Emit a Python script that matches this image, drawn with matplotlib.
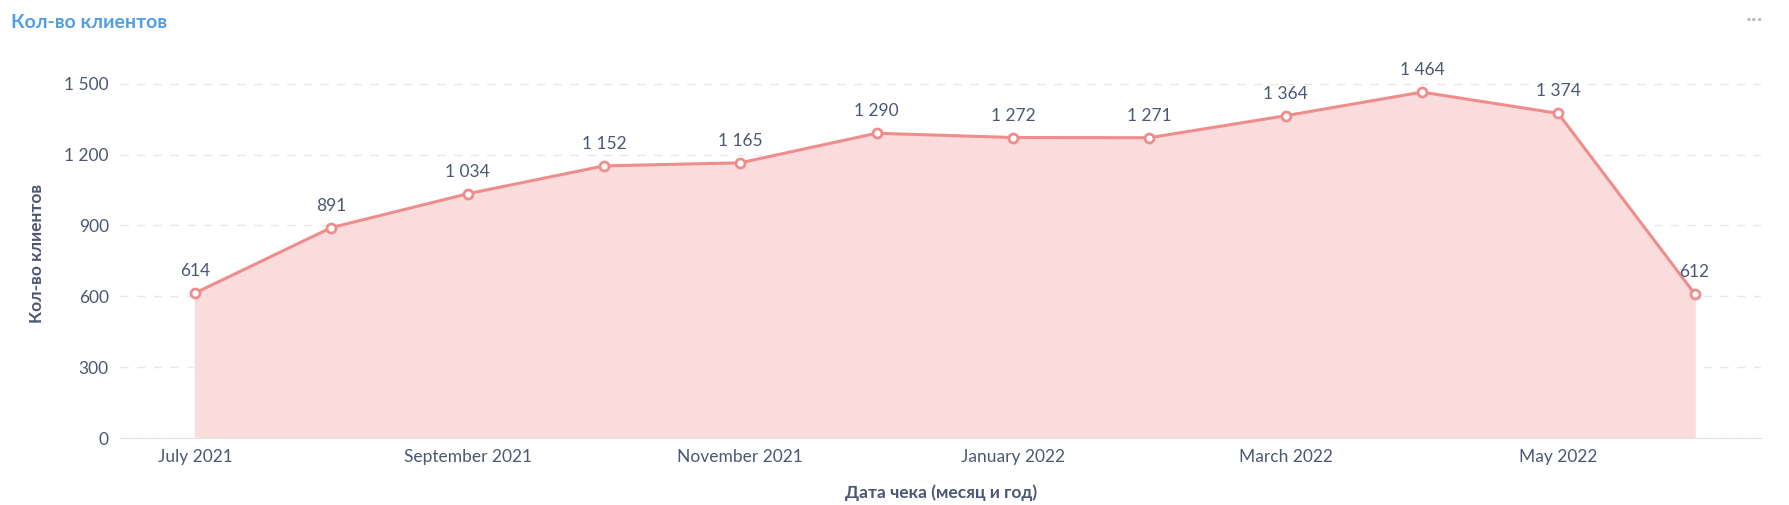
import matplotlib

matplotlib.use("Agg")

import matplotlib.pyplot as plt

plt.rcParams["font.family"] = ["Lato", "DejaVu Sans"]

months = ["July 2021", "August 2021", "September 2021", "October 2021",
          "November 2021", "December 2021", "January 2022", "February 2022",
          "March 2022", "April 2022", "May 2022", "June 2022"]
clients = [614, 891, 1034, 1152, 1165, 1290, 1272, 1271, 1364, 1464, 1374, 612]
y_ticks = [0, 300, 600, 900, 1200, 1500]

TEXT = "#4C5773"
LINE = "#EF8C8C"


def fmt(v):
    return f"{v:,}".replace(",", " ")


fig = plt.figure(figsize=(17.9, 5.05), dpi=100)
ax = fig.add_axes([0.067, 0.132, 0.917, 0.732])

x = list(range(len(months)))
ax.fill_between(x, clients, color="#FBDCDC", zorder=1)
ax.plot(x, clients, color=LINE, lw=2.2, zorder=2)
ax.scatter(x, clients, s=42, facecolor="white", edgecolor=LINE, lw=2, zorder=3)

for xi, v in zip(x, clients):
    ax.annotate(fmt(v), (xi, v), xytext=(0, 10), textcoords="offset points",
                ha="center", va="bottom", fontsize=12.5, color=TEXT)

ax.set_xlim(-0.55, 11.49)
ax.set_ylim(0, 1563)
ax.set_yticks(y_ticks)
ax.set_yticklabels([fmt(v) for v in y_ticks], fontsize=12.5, color=TEXT)
ax.set_xticks(x[::2])
ax.set_xticklabels(months[::2], fontsize=12.5, color=TEXT)
ax.tick_params(length=0, pad=8)
ax.grid(axis="y", color="#E6E8EB", ls=(0, (6, 6)), lw=1)
ax.set_axisbelow(True)
for s in ["top", "right", "left"]:
    ax.spines[s].set_visible(False)
ax.spines["bottom"].set_color("#E0E2E6")

ax.set_ylabel("Кол-во клиентов", fontsize=12.5, color=TEXT, fontweight="bold", labelpad=14)
ax.set_xlabel("Дата чека (месяц и год)", fontsize=12.5, color=TEXT, fontweight="bold", labelpad=14)

fig.text(0.006, 0.955, "Кол-во клиентов", fontsize=14, color="#509EE3",
         fontweight="bold", va="center")
fig.text(0.985, 0.96, "···", fontsize=16, color="#B0B5BF", ha="right", va="center")

fig.savefig("out.png", dpi=100)
plt.close(fig)
